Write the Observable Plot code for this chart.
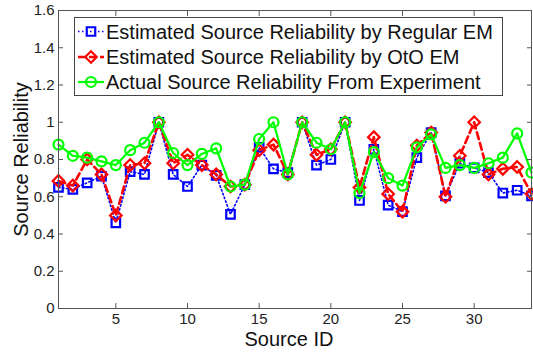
<!DOCTYPE html>
<html>
<head>
<meta charset="utf-8">
<script src="https://cdn.jsdelivr.net/npm/d3@7"></script>
<script src="https://cdn.jsdelivr.net/npm/@observablehq/plot@0.6"></script>
<style>
  html, body { margin: 0; padding: 0; background: #fff; }
  #chart svg { display: block; }
</style>
</head>
<body>
<div id="chart"></div>
<script>
const sourceIds = d3.range(1, 35);
const seriesNames = [
  "Estimated Source Reliability by Regular EM",
  "Estimated Source Reliability by OtO EM",
  "Actual Source Reliability From Experiment"
];
const regularEM = [0.65, 0.64, 0.675, 0.71, 0.46, 0.735, 0.72, 1.0, 0.72, 0.655,
                   0.77, 0.715, 0.505, 0.665, 0.865, 0.75, 0.73, 1.0, 0.77, 0.80,
                   1.0, 0.58, 0.855, 0.555, 0.52, 0.81, 0.945, 0.605, 0.78, 0.755,
                   0.73, 0.62, 0.635, 0.605];
const otoEM = [0.685, 0.66, 0.80, 0.72, 0.50, 0.77, 0.78, 1.0, 0.78, 0.825,
               0.77, 0.72, 0.655, 0.665, 0.85, 0.88, 0.72, 1.0, 0.825, 0.855,
               1.0, 0.65, 0.92, 0.615, 0.52, 0.875, 0.945, 0.60, 0.82, 1.0,
               0.72, 0.75, 0.76, 0.615];
const actual = [0.88, 0.82, 0.81, 0.79, 0.77, 0.85, 0.89, 1.0, 0.835, 0.77,
                0.83, 0.86, 0.655, 0.665, 0.91, 1.0, 0.72, 1.0, 0.89, 0.855,
                1.0, 0.62, 0.84, 0.70, 0.66, 0.865, 0.935, 0.755, 0.77, 0.755,
                0.78, 0.81, 0.94, 0.73];
const xTicks = [5, 10, 15, 20, 25, 30];
const yTicks = [0, 0.2, 0.4, 0.6, 0.8, 1, 1.2, 1.4, 1.6];

const colors = ["#0000ff", "#ff0000", "#00ff00"];
const symbols = ["square", "diamond2", "circle"];
const dashes = ["1.5,2.5", "7,4", null];
const widths = [1.6, 2.6, 2.2];
const radii = [4.8, 5.2, 5];

const values = [regularEM, otoEM, actual];
const rows = values.map((vals, s) => sourceIds.map((id, i) => ({id, v: vals[i], s})));

const font = "'Liberation Sans', Arial, Helvetica, sans-serif";

const marks = [];
rows.forEach((data, s) => {
  marks.push(Plot.line(data, {x: "id", y: "v", stroke: colors[s], strokeWidth: widths[s],
    strokeDasharray: dashes[s]}));
  marks.push(Plot.dot(data, {x: "id", y: "v", stroke: colors[s], strokeWidth: 2.2,
    symbol: symbols[s], r: radii[s], fill: "none"}));
});

const chart = Plot.plot({
  width: 533,
  height: 352,
  marginLeft: 58,
  marginRight: 2,
  marginTop: 10,
  marginBottom: 44,
  style: {fontFamily: font, fontSize: "15px", color: "#222", background: "#fff"},
  x: {domain: [1, 34]},
  y: {domain: [0, 1.6]},
  marks: [
    ...marks,
    Plot.frame({stroke: "#555", strokeWidth: 1}),
    Plot.axisX(xTicks, {anchor: "bottom", tickSize: -5, tickPadding: 10, label: null, stroke: "#555", fontSize: 15}),
    Plot.axisX(xTicks, {anchor: "top", tickSize: -5, tickFormat: () => "", label: null, stroke: "#555"}),
    Plot.axisY(yTicks, {anchor: "left", tickSize: -5, tickPadding: 9, tickFormat: d => String(d), label: null, stroke: "#555", fontSize: 15}),
    Plot.axisY(yTicks, {anchor: "right", tickSize: -5, tickFormat: () => "", label: null, stroke: "#555"}),
    Plot.text(["Source ID"], {frameAnchor: "bottom", lineAnchor: "middle", textAnchor: "middle", dy: 31, dx: -6, fontSize: 20, fill: "#111"}),
    Plot.text(["Source Reliability"], {frameAnchor: "left", lineAnchor: "middle", textAnchor: "middle", rotate: -90, dx: -37, fontSize: 20, fill: "#111"})
  ]
});

// Legend inside the plot area (top-left)
const svg = d3.select(chart);
const lg = svg.append("g").attr("font-family", font).attr("text-anchor", "start");
lg.append("rect").attr("x", 74.5).attr("y", 17.5).attr("width", 428).attr("height", 78)
  .attr("fill", "#fff").attr("stroke", "#444").attr("stroke-width", 1);
const rowY = [31.5, 57, 82];
const sym = {square: d3.symbolSquare, diamond2: d3.symbolDiamond2, circle: d3.symbolCircle};
seriesNames.forEach((name, s) => {
  const y = rowY[s];
  lg.append("line").attr("x1", 78).attr("x2", 104).attr("y1", y).attr("y2", y)
    .attr("stroke", colors[s]).attr("stroke-width", widths[s])
    .attr("stroke-dasharray", dashes[s]);
  lg.append("path").attr("transform", `translate(91,${y})`)
    .attr("d", d3.symbol(sym[symbols[s]], Math.PI * radii[s] * radii[s])())
    .attr("fill", "none").attr("stroke", colors[s]).attr("stroke-width", 2.2);
  lg.append("text").attr("x", 106).attr("y", y).attr("dy", "0.35em")
    .attr("text-anchor", "start")
    .attr("font-size", 20).attr("fill", "#111").text(name);
});

document.getElementById("chart").appendChild(chart);
</script>
</body>
</html>
